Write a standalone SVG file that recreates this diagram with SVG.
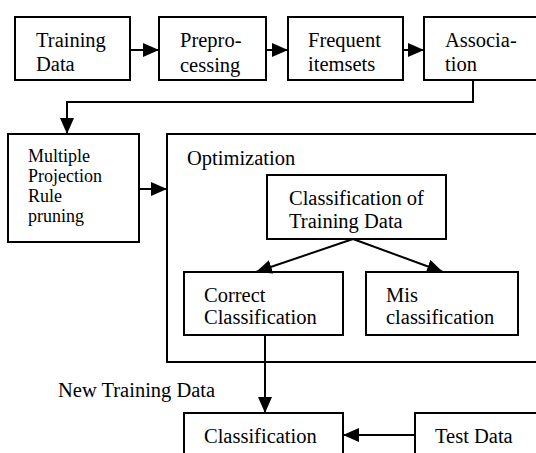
<svg xmlns="http://www.w3.org/2000/svg" width="536" height="453" viewBox="0 0 536 453" font-family="'Liberation Serif', 'Times New Roman', Times, serif">
<style>
.box{fill:#fff;stroke:#000;stroke-width:2}
text{font-family:'Liberation Serif','Times New Roman',Times,serif;font-size:20.5px;fill:#000}
text.s{font-size:18px}
.c{fill:none;stroke:#000;stroke-width:2}
</style>
<defs>
<marker id="ah" markerUnits="userSpaceOnUse" markerWidth="16" markerHeight="14" refX="16" refY="7" orient="auto">
<path d="M0,0 L16,7 L0,14 z" fill="#000"/>
</marker>
<clipPath id="cp2"><rect x="159" y="17" width="107" height="60"/></clipPath>
<clipPath id="cpc"><rect x="267" y="175" width="179" height="62"/></clipPath>
</defs>
<rect width="536" height="453" fill="#fff"/>
<g id="optimization">
<rect class="box" x="167" y="134" width="375" height="228"/>
<text x="187" y="165">Optimization</text>
</g>
<g id="training-data">
<rect class="box" x="15" y="17" width="115" height="63"/>
<text x="36" y="47">Training</text>
<text x="36" y="71">Data</text>
</g>
<g id="preprocessing">
<rect class="box" x="159" y="17" width="107" height="63"/>
<g clip-path="url(#cp2)">
<text x="180" y="47">Prepro-</text>
<text x="180" y="72">cessing</text>
</g>
</g>
<g id="frequent-itemsets">
<rect class="box" x="288" y="17" width="115" height="63"/>
<text x="308" y="47">Frequent</text>
<text x="308" y="71">itemsets</text>
</g>
<g id="association">
<rect class="box" x="424" y="17" width="120" height="63"/>
<text x="445" y="47">Associa-</text>
<text x="445" y="71">tion</text>
</g>
<g id="multiple-projection">
<rect class="box" x="8" y="134" width="131" height="108"/>
<text class="s" x="28" y="162">Multiple</text>
<text class="s" x="28" y="182">Projection</text>
<text class="s" x="28" y="202">Rule</text>
<text class="s" x="28" y="222">pruning</text>
</g>
<g id="classification-of-training-data">
<rect class="box" x="267" y="175" width="179" height="64"/>
<g clip-path="url(#cpc)">
<text x="289" y="205">Classification of</text>
<text x="289" y="228">Training Data</text>
</g>
</g>
<g id="correct-classification">
<rect class="box" x="184" y="272" width="159" height="63"/>
<text x="204" y="302">Correct</text>
<text x="204" y="324">Classification</text>
</g>
<g id="mis-classification">
<rect class="box" x="366" y="272" width="152" height="63"/>
<text x="386" y="302">Mis</text>
<text x="386" y="324">classification</text>
</g>
<g id="classification">
<rect class="box" x="184" y="413" width="159" height="50"/>
<text x="204" y="443">Classification</text>
</g>
<g id="test-data">
<rect class="box" x="415" y="413" width="130" height="50"/>
<text x="435" y="443">Test Data</text>
</g>
<g id="label-new-training-data">
<text x="58" y="397">New Training Data</text>
</g>
<g id="connectors">
<line class="c" x1="130" y1="50" x2="159" y2="50" marker-end="url(#ah)"/>
<line class="c" x1="266" y1="50" x2="288" y2="50" marker-end="url(#ah)"/>
<line class="c" x1="403" y1="50" x2="424" y2="50" marker-end="url(#ah)"/>
<polyline class="c" points="473,80 473,102 67,102 67,134" marker-end="url(#ah)"/>
<line class="c" x1="139" y1="189" x2="167" y2="189" marker-end="url(#ah)"/>
<line class="c" x1="353" y1="239" x2="256" y2="272" marker-end="url(#ah)"/>
<line class="c" x1="353" y1="239" x2="443" y2="272" marker-end="url(#ah)"/>
<line class="c" x1="265" y1="335" x2="265" y2="413" marker-end="url(#ah)"/>
<line class="c" x1="415" y1="435" x2="343" y2="435" marker-end="url(#ah)"/>
</g>
</svg>
